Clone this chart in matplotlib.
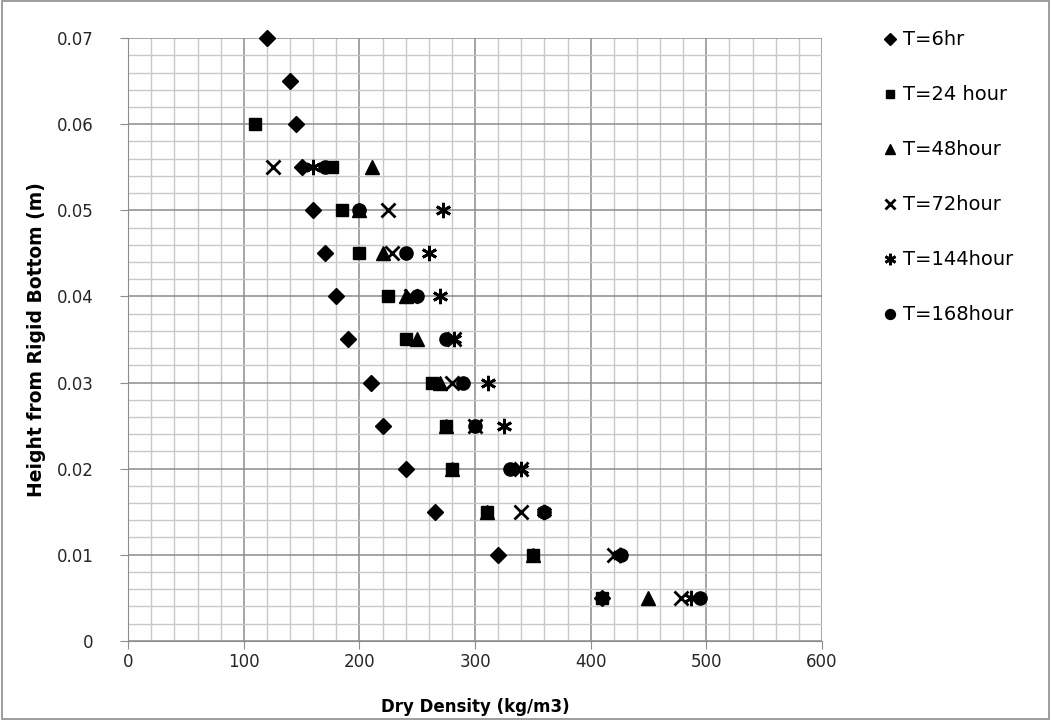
import numpy as np
import matplotlib
matplotlib.use('Agg')
from matplotlib import pyplot as plt
from matplotlib.patches import Rectangle
from matplotlib.ticker import MultipleLocator

plt.rcParams['font.family'] = ['DejaVu Sans']

# heights (m)
h_6 = [0.07, 0.065, 0.06, 0.055, 0.05, 0.045, 0.04, 0.035, 0.03, 0.025, 0.02, 0.015, 0.01, 0.005]
h_24 = [0.06, 0.055, 0.05, 0.045, 0.04, 0.035, 0.03, 0.025, 0.02, 0.015, 0.01, 0.005]
h_rest = [0.055, 0.05, 0.045, 0.04, 0.035, 0.03, 0.025, 0.02, 0.015, 0.01, 0.005]

# dry density (kg/m3)
d_6 = [120, 140, 145, 150, 160, 170, 180, 190, 210, 220, 240, 265, 320, 410]
d_24 = [110, 176, 185, 200, 225, 240, 263, 275, 280, 310, 350, 410]
d_48 = [211, 200, 220, 240, 250, 270, 275, 280, 310, 350, 450]
d_72 = [125, 225, 228, 245, 282, 280, 300, 340, 340, 420, 478]
d_144 = [160, 272, 260, 270, 282, 311, 325, 340, 360, 425, 487]
d_168 = [170, 200, 240, 250, 275, 290, 300, 330, 360, 426, 495]

labels = ['T=6hr', 'T=24 hour', 'T=48hour', 'T=72hour', 'T=144hour', 'T=168hour']

fig = plt.figure(figsize=(10.51, 7.2), dpi=100)
ax = fig.add_axes([0.122, 0.110, 0.660, 0.837])

k = 'black'
ax.plot(d_6, h_6, 'D', color=k, ms=8, ls='none', label=labels[0], zorder=3, clip_on=False)
ax.plot(d_24, h_24, 's', color=k, ms=8.5, ls='none', label=labels[1], zorder=3)
ax.plot(d_48, h_rest, '^', color=k, ms=10, ls='none', label=labels[2], zorder=3)
ax.plot(d_72, h_rest, 'x', color=k, ms=10, mew=2, ls='none', label=labels[3], zorder=3)
ax.plot(d_144, h_rest, marker=(6, 2, 0), color=k, ms=11, mew=2, ls='none', label=labels[4], zorder=3)
ax.plot(d_168, h_rest, 'o', color=k, ms=9.5, ls='none', label=labels[5], zorder=3)

ax.set_xlim(0, 600)
ax.set_ylim(0, 0.07)
ax.xaxis.set_major_locator(MultipleLocator(100))
ax.xaxis.set_minor_locator(MultipleLocator(20))
ax.yaxis.set_minor_locator(MultipleLocator(0.002))
ax.set_yticks([0, 0.01, 0.02, 0.03, 0.04, 0.05, 0.06, 0.07])
ax.set_yticklabels(['0', '0.01', '0.02', '0.03', '0.04', '0.05', '0.06', '0.07'])

ax.grid(which='major', color='#8c8c8c', lw=1.1, zorder=0)
ax.grid(which='minor', color='#c8c8c8', lw=1.0, zorder=0)
ax.set_axisbelow(True)
ax.tick_params(which='major', length=6, color='#8c8c8c', labelsize=12, labelcolor='#262626')
ax.tick_params(axis='y', which='major', pad=19)
ax.tick_params(axis='x', which='major', pad=3)
ax.tick_params(which='minor', length=0)
for s in ['top', 'right']:
    ax.spines[s].set_visible(False)
for s in ['left', 'bottom']:
    ax.spines[s].set_color('#8c8c8c')

ax.set_xlabel('Dry Density (kg/m3)', fontsize=12, fontweight='bold', labelpad=19)
ax.set_ylabel('Height from Rigid Bottom (m)', fontsize=13.5, fontweight='bold', labelpad=8)

leg = fig.legend(loc='upper left', bbox_to_anchor=(0.821, 0.982), frameon=False,
                 fontsize=14, labelspacing=1.85, handletextpad=0.15, handlelength=1.0,
                 markerscale=0.75)

fig.patches.append(Rectangle((0.002, 0.002), 0.996, 0.996, transform=fig.transFigure,
                             fill=False, edgecolor='#8c8c8c', lw=1.2))

fig.savefig('out.png', dpi=100)
